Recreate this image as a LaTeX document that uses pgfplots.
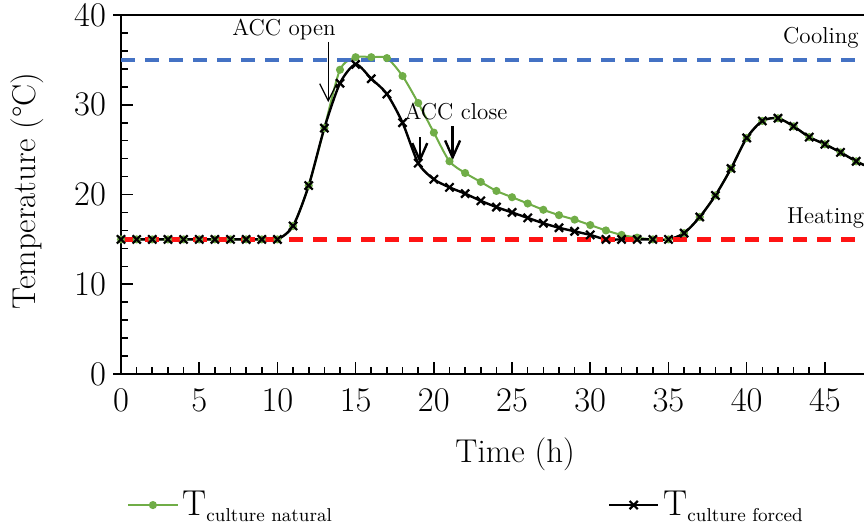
\documentclass[border=0pt]{standalone}
\usepackage{pgfplots}
\pgfplotsset{compat=1.18}
\usetikzlibrary{arrows.meta}
\definecolor{cgreen}{RGB}{112,173,71}
\definecolor{cblue}{RGB}{68,114,196}
\definecolor{cred}{RGB}{255,20,20}
\begin{document}
\begin{tikzpicture}
\begin{axis}[
  scale only axis,
  width=391pt, height=179.5pt,
  xmin=0, xmax=50, ymin=0, ymax=40,
  xtick={0,5,...,45}, ytick={0,10,...,40},
  minor x tick num=4, minor y tick num=4,
  tick pos=left,
  tick align=inside,
  major tick length=6pt, minor tick length=3.5pt,
  every tick/.style={black, line width=0.8pt},
  axis line style={line width=1.1pt},
  tick label style={font=\fontsize{16}{18}\selectfont},
  xticklabel style={yshift=-4pt},
  yticklabel style={xshift=-4pt},
  label style={font=\fontsize{16.5}{19}\selectfont},
  xlabel={Time (h)},
  ylabel={Temperature (\textdegree C)},
  xlabel style={at={([yshift=-40pt]axis description cs:0.504,0)}, anchor=center},
  ylabel style={at={([xshift=-47pt]axis description cs:0,0.51)}, anchor=center},
  clip=false,
  legend columns=2,
  legend style={at={([yshift=-65.5pt,xshift=0pt]axis description cs:0,0)}, anchor=west,
    draw=none, fill=none, font=\fontsize{18}{20}\selectfont,
    /tikz/every even column/.append style={column sep=136pt}},
  legend image code/.code={\draw[#1,mark repeat=2,mark phase=2] plot coordinates {(0pt,0pt) (12.25pt,0pt) (24.5pt,0pt)};},
]
\addplot[cgreen, line width=1pt, smooth, tension=0.45, mark=*, mark size=1.5pt, mark options={fill=cgreen, draw=cgreen}]
coordinates {
(0,15.0)(1,15.0)(2,15.0)(3,15.0)(4,15.0)(5,15.0)(6,15.0)(7,15.0)(8,15.0)(9,15.0)(10,15.0)
(11,16.5)(12,21.0)(13,27.4)(14,33.9)(15,35.3)(16,35.3)(17,35.2)(18,33.2)(19,30.2)(20,26.9)
(21,23.7)(22,22.4)(23,21.4)(24,20.4)(25,19.7)(26,19.0)(27,18.3)(28,17.7)(29,17.2)(30,16.6)
(31,16.0)(32,15.5)(33,15.2)(34,15.0)(35,15.0)(36,15.7)(37,17.5)(38,19.9)(39,22.9)(40,26.3)
(41,28.2)(42,28.5)(43,27.6)(44,26.4)(45,25.6)(46,24.7)(47,23.7)(48,22.9)
};
\addlegendentry{T\raisebox{-3pt}{\fontsize{9.3}{11}\selectfont culture natural}}
\addplot[black, line width=1.2pt, smooth, tension=0.45, mark=x, mark size=2.9pt, mark options={line width=1.1pt}]
coordinates {
(0,15.0)(1,15.0)(2,15.0)(3,15.0)(4,15.0)(5,15.0)(6,15.0)(7,15.0)(8,15.0)(9,15.0)(10,15.0)
(11,16.5)(12,21.0)(13,27.4)(14,32.4)(15,34.5)(16,32.9)(17,31.2)(18,28.0)(19,23.5)(20,21.7)
(21,20.8)(22,20.1)(23,19.3)(24,18.6)(25,18.0)(26,17.4)(27,16.8)(28,16.3)(29,15.9)(30,15.5)
(31,15.0)(32,15.0)(33,15.0)(34,15.0)(35,15.0)(36,15.7)(37,17.5)(38,19.9)(39,22.9)(40,26.3)
(41,28.2)(42,28.5)(43,27.6)(44,26.4)(45,25.6)(46,24.7)(47,23.7)(48,22.9)
};
\addlegendentry{T\raisebox{-3pt}{\fontsize{9.3}{11}\selectfont culture forced}}
\addplot[cred, line width=2.1pt, dash pattern=on 7pt off 5pt, forget plot] coordinates {(0,15)(50,15)};
\addplot[cblue, line width=2.1pt, dash pattern=on 7pt off 5pt, forget plot] coordinates {(0,35)(50,35)};
\draw[line width=1.1pt] (axis cs:-0.5,0) -- (axis cs:0,0);
\draw[line width=1.1pt] (axis cs:-0.5,40) -- (axis cs:0,40);
\node[anchor=base, font=\fontsize{11.5}{13}\selectfont] at (axis cs:10.42,37.77) {ACC open};
\node[anchor=base, font=\fontsize{11.5}{13}\selectfont] at (axis cs:21.42,28.4) {ACC close};
\node[anchor=base west, inner sep=0pt, font=\fontsize{11.5}{13}\selectfont] at (axis cs:42.3,36.8) {Cooling};
\node[anchor=base west, inner sep=0pt, font=\fontsize{11.5}{13}\selectfont] at (axis cs:42.56,16.8) {Heating};
\draw[-{Straight Barb[length=8.5pt,width=8.5pt]}, line width=0.6pt] (axis cs:13.25,37.0) -- (axis cs:13.25,30.3);
\draw[-{Straight Barb[length=8.5pt,width=7.5pt]}, line width=1.2pt] (axis cs:19.1,26.4) -- (axis cs:19.1,23.5);
\draw[-{Straight Barb[length=8.5pt,width=7.5pt]}, line width=1.2pt] (axis cs:21.2,27.6) -- (axis cs:21.2,23.8);
\coordinate (bl) at (axis cs:0,0);
\coordinate (tr) at (axis cs:47.5,40);
\end{axis}
\pgfresetboundingbox
\path[use as bounding box] ([xshift=-60.5pt,yshift=-76pt]bl) rectangle ([yshift=7.5pt]tr);
\end{tikzpicture}
\end{document}
